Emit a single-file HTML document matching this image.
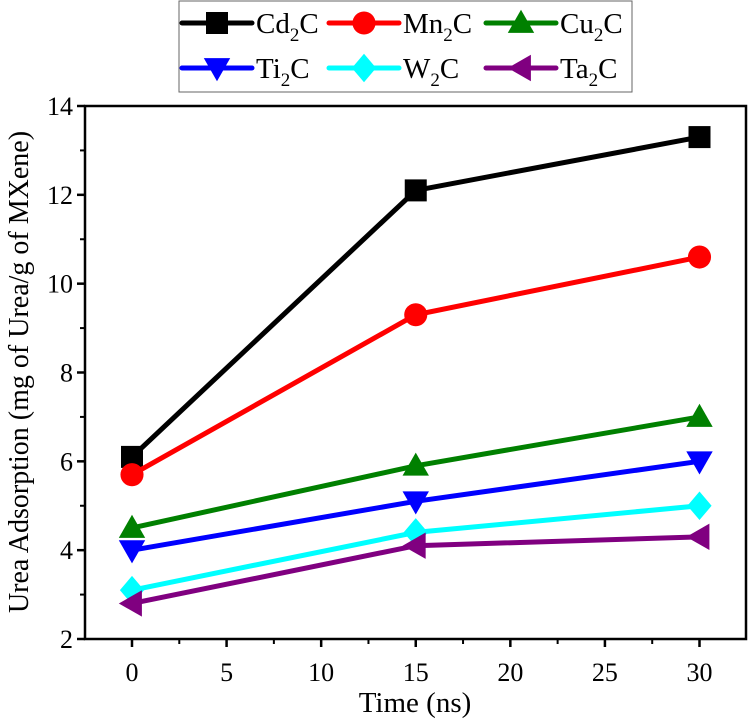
<!DOCTYPE html>
<html><head><meta charset="utf-8"><style>
html,body{margin:0;padding:0;background:#fff;}
svg text{font-family:"Liberation Serif",serif;fill:#000;}
</style></head><body>
<svg id="chart" width="750" height="722" xmlns="http://www.w3.org/2000/svg"></svg>
<script>
const times=[0,15,30];
const seriesNames=["Cd","Mn","Cu","Ti","W","Ta"];
const cdVals=[6.1,12.1,13.3];
const mnVals=[5.7,9.3,10.6];
const cuVals=[4.5,5.9,7.0];
const tiVals=[4.0,5.1,6.0];
const wVals=[3.1,4.4,5.0];
const taVals=[2.8,4.1,4.3];
const xTicks=[0,5,10,15,20,25,30];
const yTicks=[2,4,6,8,10,12,14];

const NS="http://www.w3.org/2000/svg";
const svg=document.getElementById('chart');
const L=85,R=746,T=106,B=639;
const xs=v=>132+(v-0)*(699.5-132)/30;
const ys=v=>B-(v-2)*(B-T)/12;
function mk(tag,attrs,parent){const e=document.createElementNS(NS,tag);for(const k in attrs)e.setAttribute(k,attrs[k]);(parent||svg).appendChild(e);return e;}
const colors=["#000000","#ff0000","#008000","#0000ff","#00ffff","#800080"];
const shapes=["square","circle","up","down","diamond","left"];
const data=[cdVals,mnVals,cuVals,tiVals,wVals,taVals];

function marker(g,shape,x,y,c,s){
  let e;
  if(shape==="square")e=mk('rect',{x:x-s,y:y-s,width:2*s,height:2*s,fill:c},g);
  else if(shape==="circle")e=mk('circle',{cx:x,cy:y,r:s*1.05,fill:c},g);
  else{
    let p;
    if(shape==="up")p=[[x,y-s*1.2],[x-s*1.2,y+s*0.9],[x+s*1.2,y+s*0.9]];
    if(shape==="down")p=[[x,y+s*1.2],[x-s*1.2,y-s*0.9],[x+s*1.2,y-s*0.9]];
    if(shape==="diamond")p=[[x,y-s*1.3],[x+s*1.1,y],[x,y+s*1.3],[x-s*1.1,y]];
    if(shape==="left")p=[[x-s*1.2,y],[x+s*0.9,y-s*1.2],[x+s*0.9,y+s*1.2]];
    e=mk('polygon',{points:p.map(q=>q.join(',')).join(' '),fill:c},g);
  }
  
  
}

const frame=mk('rect',{x:L,y:T,width:R-L,height:B-T,fill:'none',stroke:'#000','stroke-width':2.5});


xTicks.forEach(v=>{
  const x=xs(v);
  mk('line',{x1:x,y1:B,x2:x,y2:B+8,stroke:'#000','stroke-width':2.5});
  const t=mk('text',{x:x,y:B+42,'font-size':26,'text-anchor':'middle'});t.textContent=v;
  
  
});
for(let v=-2.5;v<=32.5;v+=5){const x=xs(v);if(x>L&&x<R)mk('line',{x1:x,y1:B,x2:x,y2:B+5,stroke:'#000','stroke-width':2});}
yTicks.forEach(v=>{
  const y=ys(v);
  mk('line',{x1:L,y1:y,x2:L-8,y2:y,stroke:'#000','stroke-width':2.5});
  const t=mk('text',{x:L-12,y:y+9,'font-size':26,'text-anchor':'end'});t.textContent=v;
  
  
});
for(let v=3;v<14;v+=2){const y=ys(v);mk('line',{x1:L,y1:y,x2:L-5,y2:y,stroke:'#000','stroke-width':2});}
const xt=mk('text',{x:415,y:712,'font-size':29,'text-anchor':'middle'});xt.textContent='Time (ns)';


const yt=mk('text',{x:0,y:0,'font-size':28,'text-anchor':'middle',transform:'translate(28,372) rotate(-90)'});yt.textContent='Urea Adsorption (mg of Urea/g of MXene)';



data.forEach((vals,i)=>{
  const g=mk('g',{});
  
  
  mk('polyline',{points:times.map((t,j)=>xs(t)+','+ys(vals[j])).join(' '),fill:'none',stroke:colors[i],'stroke-width':5},g);
  times.forEach((t,j)=>marker(g,shapes[i],xs(t),ys(vals[j]),colors[i],11));
});

const lg=mk('g',{});


mk('rect',{x:179,y:1,width:453,height:91,fill:'#fff',stroke:'#666','stroke-width':1},lg);
const lx=[182,329,486],ly=[23,68];
seriesNames.forEach((n,i)=>{
  const x=lx[i%3],y=ly[Math.floor(i/3)];
  const e=mk('g',{},lg);
  
  
  mk('line',{x1:x,y1:y,x2:x+70,y2:y,stroke:colors[i],'stroke-width':5,'stroke-linecap':'round'},e);
  marker(e,shapes[i],x+35,y,colors[i],11);
  const t=mk('text',{x:x+74,y:y+10,'font-size':29},e);
  t.innerHTML=n+'<tspan font-size="19" dy="8">2</tspan><tspan dy="-8">C</tspan>';
});
</script>
</body></html>
